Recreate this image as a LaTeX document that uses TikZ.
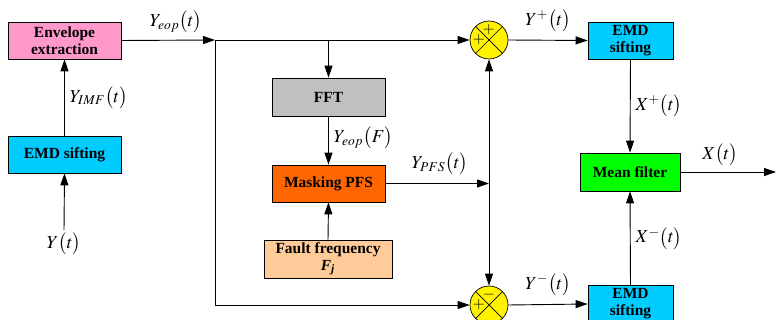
\documentclass[tikz,border=0pt]{standalone}
\usepackage{mathptmx}
\usepackage[no-math]{fontspec}
\setmainfont{Liberation Serif}
\usetikzlibrary{positioning,arrows.meta,calc}
\definecolor{envpink}{RGB}{255,153,204}
\definecolor{emdcyan}{RGB}{0,204,255}
\definecolor{fftgray}{RGB}{192,192,192}
\definecolor{maskorange}{RGB}{255,102,0}
\definecolor{faultpeach}{RGB}{255,204,153}
\definecolor{meangreen}{RGB}{0,255,0}
\tikzset{
  blk/.style={rectangle, draw, line width=0.5pt, inner sep=0pt, align=center,
              font=\fontsize{11}{12}\selectfont\bfseries},
  sumnode/.style={circle, draw, line width=0.5pt, fill=yellow, minimum size=38*0.025cm, inner sep=0pt},
  arr/.style={line width=0.65pt, -{Triangle[length=3mm,width=2mm]}},
  lab/.style={font=\fontsize{13}{15}\selectfont, inner sep=0.5pt},
  sgn/.style={font=\fontsize{11}{12}\selectfont, inner sep=0pt},
}
\begin{document}
\begin{tikzpicture}[x=0.025cm,y=-0.025cm]
  \useasboundingbox (0,0) rectangle (776,320);
  % left column
  \node[blk, fill=envpink, minimum width=113*0.025cm, minimum height=37*0.025cm] (env) at (64.5,40.5) {Envelope\\extraction};
  \node[blk, fill=emdcyan, minimum width=113*0.025cm, minimum height=37*0.025cm] (emd) at (64.5,154.5) {EMD sifting};
  \node[lab] (yin) at (64,244) {$Y\big(t\big)$};
  \draw[arr] (yin.north) ++(0,-2) -- (emd.south);
  \draw[arr] (emd.north) -- node[lab, right=3pt]{$Y_{IMF}\big(t\big)$} (env.south);
  % middle column
  \node[blk, fill=fftgray, minimum width=113*0.025cm, minimum height=38*0.025cm] (fft) at (328.5,97) {FFT};
  \node[blk, fill=maskorange, minimum width=113*0.025cm, minimum height=37*0.025cm] (mask) at (328.5,183.5) {Masking PFS};
  \node[blk, fill=faultpeach, minimum width=128*0.025cm, minimum height=38*0.025cm] (fault) at (328,259) {Fault frequency\\\textit{F}\textsubscript{\textit{j}}};
  % adders
  \node[sumnode] (sumA) at (489,40) {};
  \node[sumnode] (sumB) at (489,305) {};
  \foreach \s in {sumA,sumB} {
    \draw[line width=0.5pt] (\s.north west) -- (\s.south east);
    \draw[line width=0.5pt] (\s.north east) -- (\s.south west);
  }
  \node[sgn] at ($(sumA.center)+(0,-10)$) {$+$};
  \node[sgn] at ($(sumA.center)+(-10,0)$) {$+$};
  \node[sgn] at ($(sumB.center)+(0,-10)$) {$-$};
  \node[sgn] at ($(sumB.center)+(-10,0)$) {$+$};
  % right column
  \node[blk, fill=emdcyan, minimum width=85*0.025cm, minimum height=37*0.025cm] (emdA) at (630.5,40.5) {EMD\\sifting};
  \node[blk, fill=meangreen, minimum width=100*0.025cm, minimum height=38*0.025cm] (mean) at (630,172) {Mean filter};
  \node[blk, fill=emdcyan, minimum width=85*0.025cm, minimum height=37*0.025cm] (emdB) at (630.5,304) {EMD\\sifting};
  % junctions
  \coordinate (jeop) at (215,40);
  \coordinate (jpfs) at (489,183.5);
  \coordinate (xout) at (776,172);
  % connectors
  \draw[arr] (env.east) -- (jeop);
  \node[lab] at (176,22) {$Y_{eop}\big(t\big)$};
  \draw[arr] (jeop) -- (sumA.west);
  \draw[arr] (jeop) |- (sumB.west);
  \draw[arr] (fft.north |- jeop) -- (fft.north);
  \draw[arr] (fft.south) -- node[lab, right=3pt, pos=0.45]{$Y_{eop}\big(F\big)$} (mask.north);
  \draw[arr] (fault.north) -- (mask.south);
  \draw[arr] (mask.east) -- (jpfs);
  \node[lab] at (440,164) {$Y_{PFS}\big(t\big)$};
  \draw[arr] (jpfs) -- (sumA.south);
  \draw[arr] (jpfs) -- (sumB.north);
  \draw[arr] (sumA.east) -- (emdA.west);
  \node[lab] at (548,21) {$Y^{+}\big(t\big)$};
  \draw[arr] (sumB.east) -- (emdB.west);
  \node[lab] at (548,285) {$Y^{-}\big(t\big)$};
  \draw[arr] (emdA.south) -- node[lab, right=3pt]{$X^{+}\big(t\big)$} (mean.north);
  \draw[arr] (emdB.north) -- node[lab, right=3pt]{$X^{-}\big(t\big)$} (mean.south);
  \draw[arr] (mean.east) -- (xout);
  \node[lab] at (720,155) {$X\big(t\big)$};
\end{tikzpicture}
\end{document}
